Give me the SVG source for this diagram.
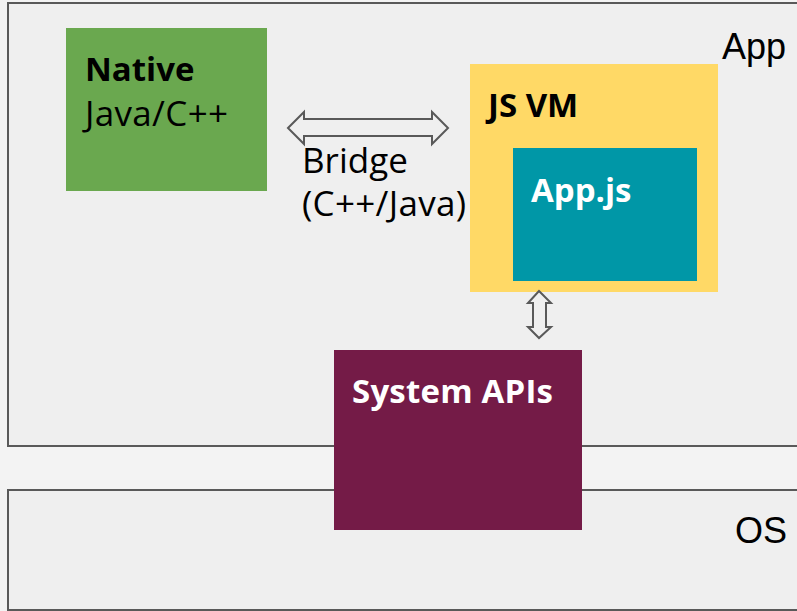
<svg xmlns="http://www.w3.org/2000/svg" width="797" height="611" viewBox="0 0 797 611">
<style>
.layer{fill:#efefef;stroke:#595959;stroke-width:2}
.lbl{font-family:"Liberation Sans",Arial,sans-serif;font-size:36px;fill:#000}
.t{font-family:"Open Sans","Noto Sans",sans-serif;font-size:35px}
.b{font-weight:bold;font-size:33px}
.arrow{fill:#efefef;stroke:#595959;stroke-width:2;stroke-linejoin:miter}
</style>
<rect width="797" height="611" fill="#f3f3f3"/>
<g id="app">
<rect class="layer" x="8" y="3" width="800" height="443"/>
<text class="lbl" x="722" y="59">App</text>
</g>
<g id="os">
<rect class="layer" x="8" y="490" width="800" height="120"/>
<text class="lbl" x="735" y="543">OS</text>
</g>
<g id="native">
<rect x="66" y="28" width="201" height="163" fill="#6aa84f"/>
<text class="t b" x="85" y="81">Native</text>
<text class="t" x="85" y="126" textLength="143">Java/C++</text>
</g>
<g id="jsvm">
<rect x="470" y="64" width="248" height="228" fill="#ffd966"/>
<text class="t b" x="488" y="117">JS VM</text>
</g>
<g id="appjs">
<rect x="513" y="148" width="184" height="133" fill="#0097a7"/>
<text class="t b" x="531" y="202" fill="#fff">App.js</text>
</g>
<g id="sysapis">
<rect x="334" y="350" width="248" height="180" fill="#741b47"/>
<text class="t b" x="352" y="403" fill="#fff" textLength="201">System APIs</text>
</g>
<g id="connectors">
<polygon class="arrow" points="288,128 304,112 304,119 432,119 432,112 448,128 432,144 432,136 304,136 304,144"/>
<polygon class="arrow" points="539,291 551,303 546,303 546,327 551,327 539,338 528,327 533,327 533,303 528,303"/>
<text class="t" x="302" y="173">Bridge</text>
<text class="t" x="302" y="216" textLength="164">(C++/Java)</text>
</g>
</svg>
